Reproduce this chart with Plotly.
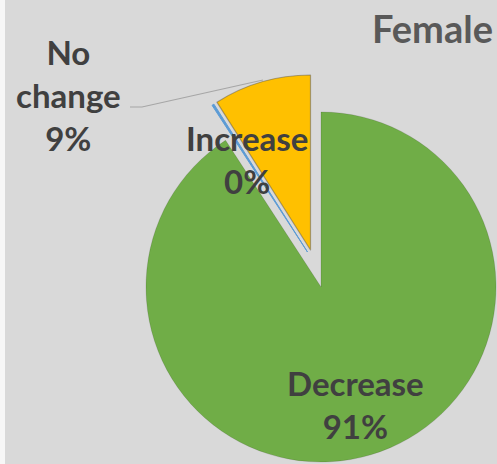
import plotly.graph_objects as go

# ---- data ----
categories = ["Decrease", "Increase", "No change"]
values = [91, 0.2, 9]
slice_colors = ["#70AD47", "#5B9BD5", "#FFC000"]
title_text = "Female"

W, H = 497, 464
total = sum(values)
pct = [round(v / total * 100) for v in values]
label_text = {c: f"{c.replace(' ', '<br>')}<br>{p}%" for c, p in zip(categories, pct)}

def px_x(x):
    return x / W

def px_y(y):
    return 1 - y / H

def dom(x0, y0, size):
    return dict(x=[px_x(x0), px_x(x0 + size)], y=[px_y(y0 + size), px_y(y0)])

clear = "rgba(0,0,0,0)"
R2 = 350

def colors_only(keep):
    return [col if c in keep else clear for c, col in zip(categories, slice_colors)]

def lines_only(keep, colr):
    return [colr if c in keep else clear for c in categories]

common = dict(labels=categories, values=values, sort=False, direction="clockwise",
              rotation=0, textinfo="none", hoverinfo="skip", showlegend=False)

fig = go.Figure()
# main (un-exploded) slices
fig.add_trace(go.Pie(**common, domain=dom(146, 112, R2),
                     marker=dict(colors=colors_only({"Decrease"}),
                                 line=dict(color=lines_only({"Decrease"}, "rgba(0,0,0,0.12)"), width=1))))
# exploded blue slice
fig.add_trace(go.Pie(**common, domain=dom(132.5, 77, R2),
                     marker=dict(colors=colors_only({"Increase"}),
                                 line=dict(color=lines_only({"Increase"}, "#5B9BD5"), width=1))))
# exploded yellow slice
fig.add_trace(go.Pie(**common, domain=dom(135.5, 75, R2),
                     marker=dict(colors=colors_only({"No change"}),
                                 line=dict(color=lines_only({"No change"}, "rgba(80,80,80,0.45)"), width=1.2))))

lab_font = dict(family="Lato", size=33, color="#404040")
annots = [
    dict(text=label_text["No change"], x=px_x(68), y=px_y(95)),
    dict(text=label_text["Increase"], x=px_x(247), y=px_y(159)),
    dict(text=label_text["Decrease"], x=px_x(355), y=px_y(404)),
]
for a in annots:
    a.update(xref="paper", yref="paper", xanchor="center", yanchor="middle",
             showarrow=False, font=lab_font)
    a["text"] = f"<b>{a['text']}</b>"
annots.append(dict(text=f"<b>{title_text}</b>", xref="paper", yref="paper",
                   x=px_x(495), y=px_y(28), xanchor="right", yanchor="middle",
                   showarrow=False, font=dict(family="Lato", size=38, color="#595959")))

shapes = [
    dict(type="rect", xref="paper", yref="paper", x0=0, x1=px_x(5), y0=0, y1=1,
         fillcolor="#f7f7f7", line=dict(width=0), layer="below"),
    dict(type="path", xref="paper", yref="paper",
         path=f"M {px_x(130)},{px_y(107)} L {px_x(142)},{px_y(107)} L {px_x(263)},{px_y(80)}",
         line=dict(color="#a6a6a6", width=1.2)),
]

fig.update_layout(width=W, height=H, margin=dict(l=0, r=0, t=0, b=0),
                  paper_bgcolor="#d9d9d9", plot_bgcolor="#d9d9d9",
                  annotations=annots, shapes=shapes)
fig.write_html("out.html", config={"displayModeBar": False})

# remove the default page margin so the figure fills the window exactly
with open("out.html", "r", encoding="utf-8") as f:
    html = f.read()
html = html.replace("<head>", "<head><style>html,body{margin:0;padding:0;overflow:hidden;}</style>", 1)
with open("out.html", "w", encoding="utf-8") as f:
    f.write(html)
